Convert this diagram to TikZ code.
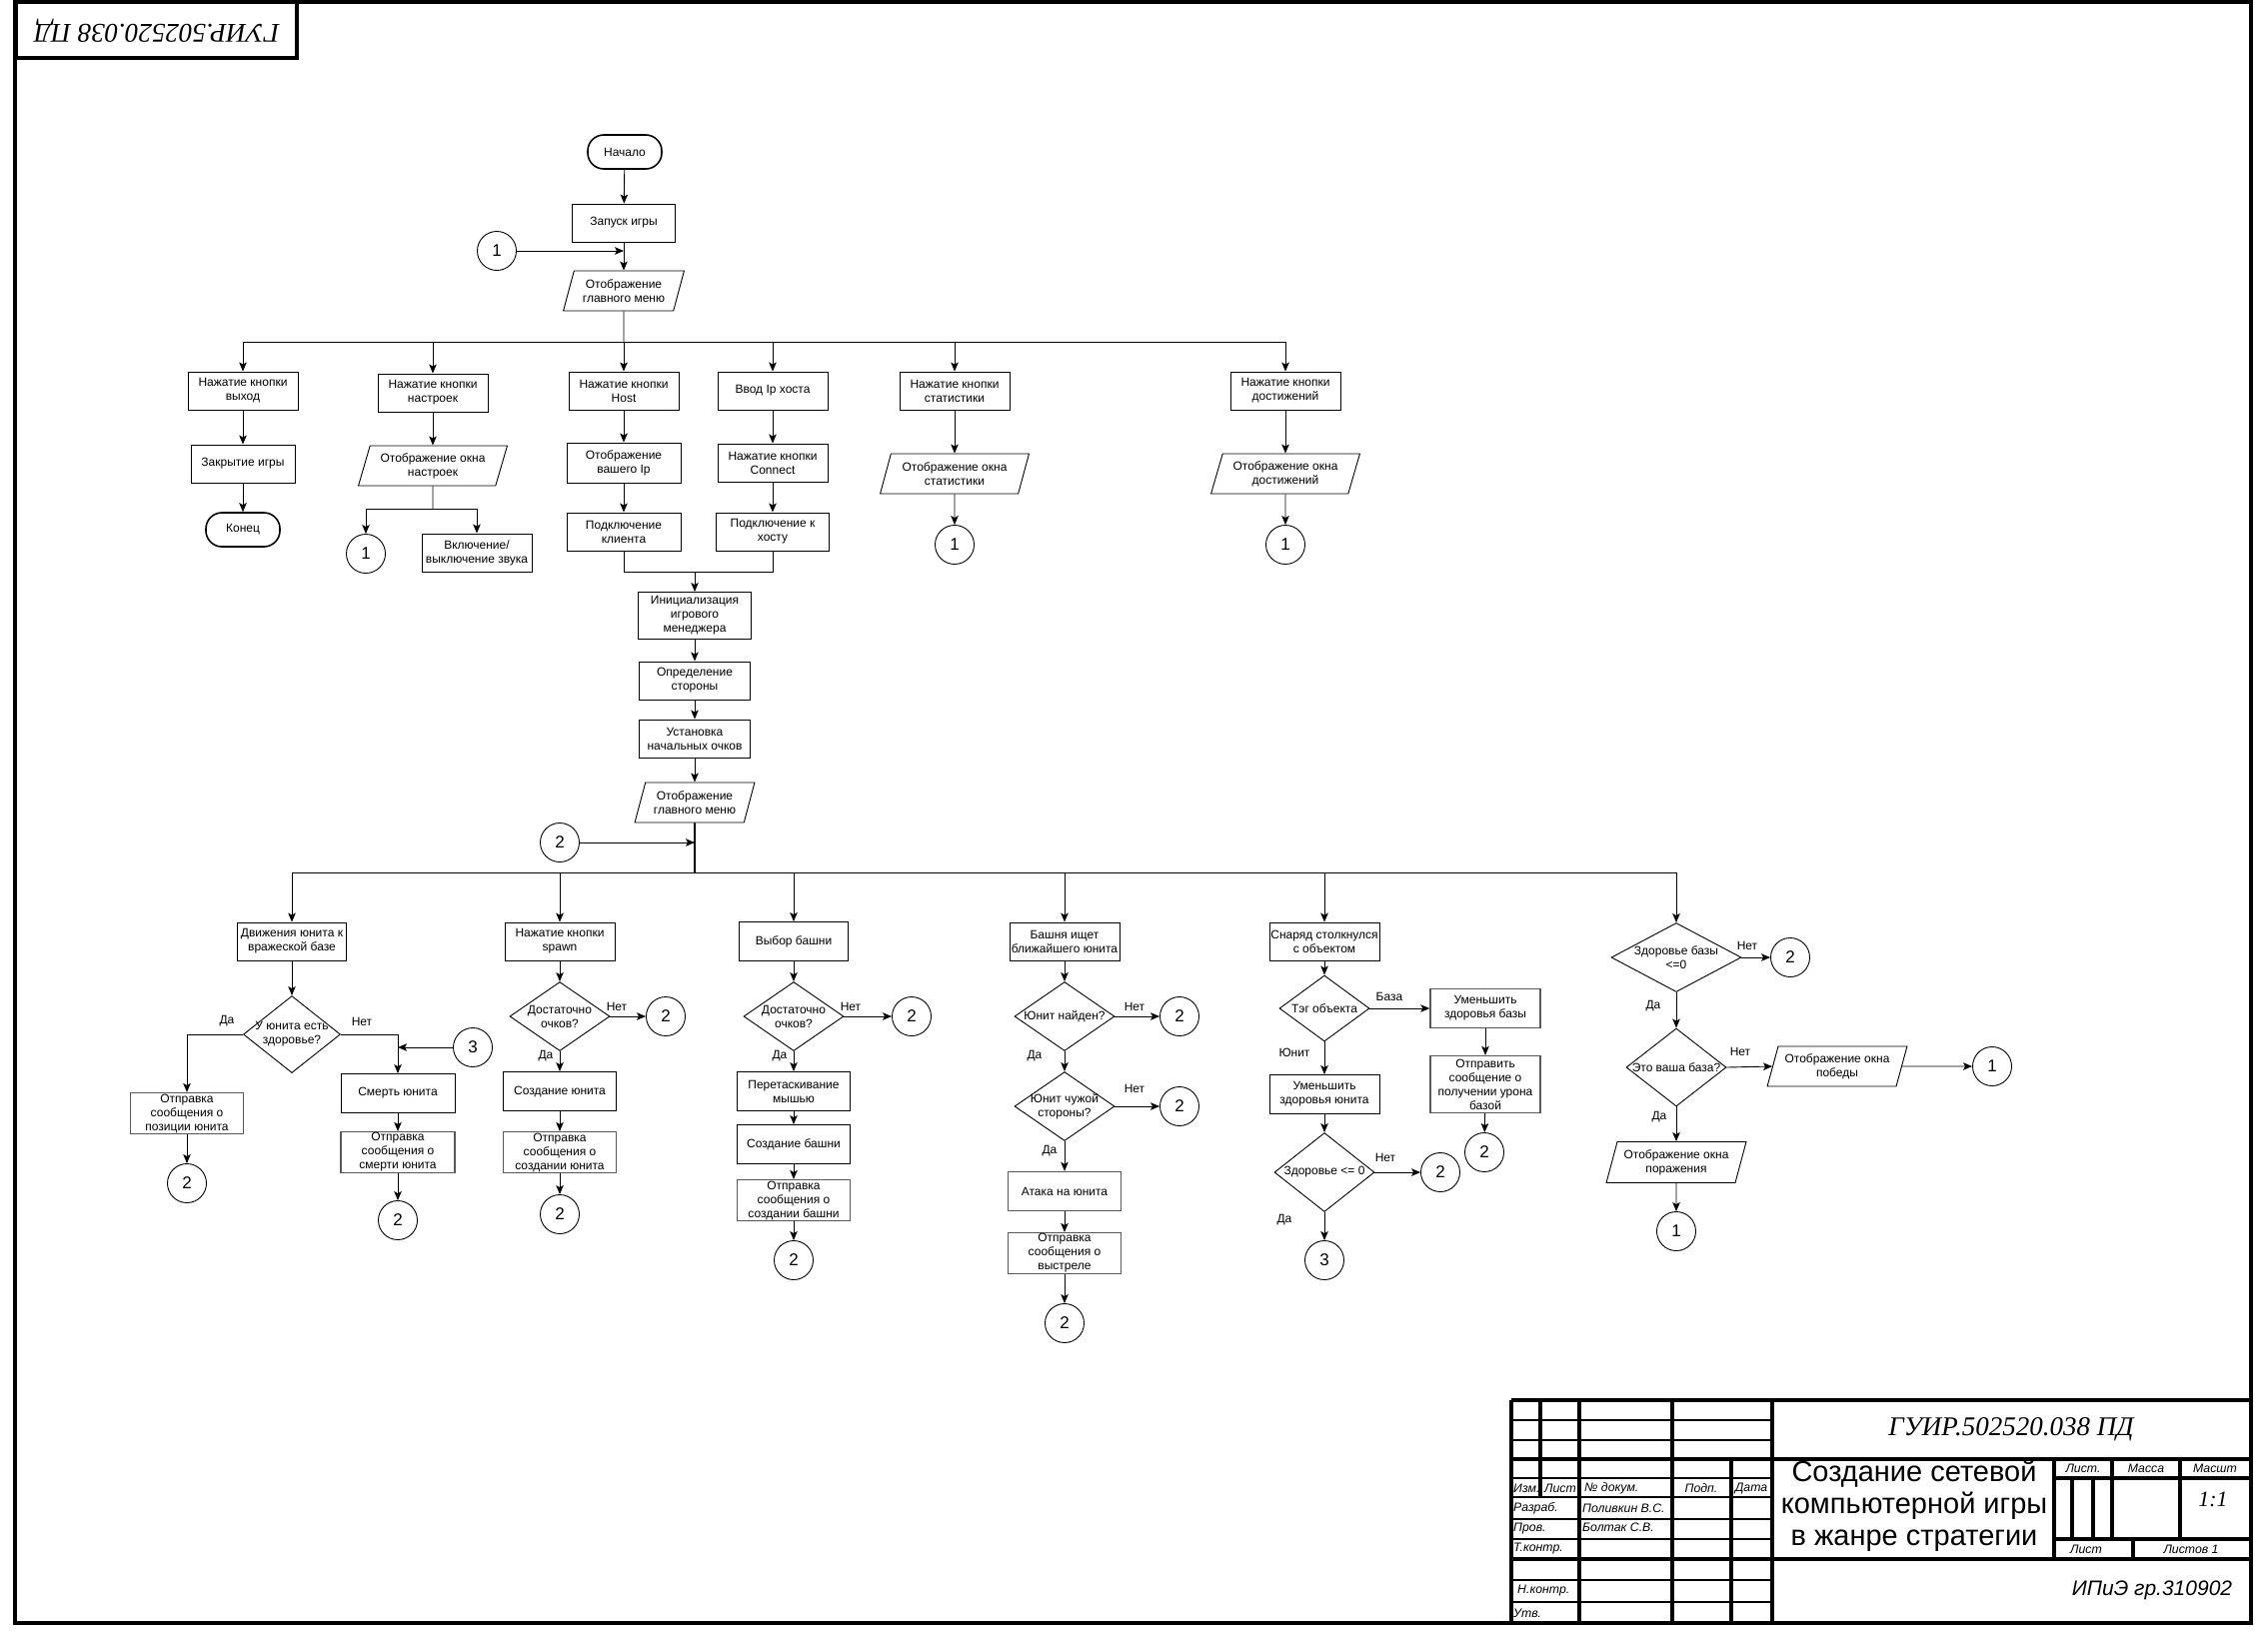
\documentclass[tikz,border=0pt]{standalone}
\usepackage{fontspec}
\setmainfont{Liberation Sans}
\newfontfamily\tserif{Liberation Serif}
\usetikzlibrary{shapes.geometric,arrows.meta}
\begin{document}
\begin{tikzpicture}[x=1pt,y=-1pt,
  every node/.style={inner sep=1pt, font=\fontsize{12}{14}\selectfont},
  box/.style={draw, line width=0.9pt, rectangle, minimum width=110pt, minimum height=38pt, align=center},
  gbox/.style={box, draw=black!65, line width=1.4pt},
  io/.style={draw, line width=0.9pt, trapezium, trapezium left angle=70, trapezium right angle=110, trapezium stretches=true, minimum width=120pt, minimum height=40pt, align=center},
  term/.style={draw, line width=1.6pt, rectangle, rounded corners=16pt, minimum width=74pt, minimum height=34pt},
  dec/.style={draw, line width=0.9pt, diamond, minimum width=100pt, minimum height=69pt},
  dtxt/.style={align=center, inner sep=0pt},
  conn/.style={draw, line width=0.9pt, circle, minimum size=39pt, inner sep=0pt, font=\fontsize{17}{20}\selectfont},
  arr/.style={line width=0.9pt, -{Stealth[length=9pt,width=7.5pt,inset=2pt]}},
  ln/.style={line width=0.9pt},
  lbl/.style={inner sep=0pt},
  frm/.style={line width=4pt},
  tk/.style={line width=3.2pt},
  tn/.style={line width=1.6pt},
  tb/.style={font=\fontsize{12.3}{14}\selectfont\itshape, inner sep=0pt},
]
\useasboundingbox (0,0) rectangle (2269,1639);
% frame and stamp
\draw[frm] (15,2) rectangle (2252,1624);
\draw[frm] (16,2) rectangle (297,58);
\node[rotate=180, font={\fontsize{27}{30}\tserif\itshape}] (stamp) at (157,31) {ГУИР.502520.038 ПД};

% ---------- top part ----------
\node[term] (start) at (625,152) {Начало};
\node[box, minimum width=103pt] (n1) at (624,223) {Запуск игры};
\node[conn] (c1a) at (497,251) {1};
\coordinate (j1) at (624,251);
\node[io, minimum width=121pt] (m1) at (624,291) {Отображение\\главного меню};
\coordinate (bus1) at (624,342);

\node[box] (b1) at (243,391) {Нажатие кнопки\\выход};
\node[box] (b2) at (433,393) {Нажатие кнопки\\настроек};
\node[box] (b3) at (624,391) {Нажатие кнопки\\Host};
\node[box] (b4) at (773,391) {Ввод Ip хоста};
\node[box] (b5) at (955,391) {Нажатие кнопки\\статистики};
\node[box] (b6) at (1286,391) {Нажатие кнопки\\достижений};

\node[box, minimum width=104pt] (b1a) at (243,464) {Закрытие игры};
\node[term] (b1b) at (243,530) {Конец};

\node[io, minimum width=149pt] (b2a) at (433,466) {Отображение окна\\настроек};
\coordinate (j2) at (433,509);
\node[conn] (c1b) at (366,554) {1};
\node[box, minimum width=110pt] (b2b) at (477,553) {Включение/\\выключение звука};

\node[box, minimum width=114pt, minimum height=40pt] (b3a) at (624,463) {Отображение\\вашего Ip};
\node[box, minimum width=114pt] (b3b) at (624,532) {Подключение\\клиента};
\node[box] (b4a) at (773,463) {Нажатие кнопки\\Connect};
\node[box, minimum width=113pt] (b4b) at (773,532) {Подключение к\\хосту};
\coordinate (j3) at (624,572);
\coordinate (j4) at (773,572);

\node[io, minimum width=149pt] (b5a) at (955,474) {Отображение окна\\статистики};
\node[conn] (c1c) at (955,545) {1};
\node[io, minimum width=149pt] (b6a) at (1286,474) {Отображение окна\\достижений};
\node[conn] (c1d) at (1286,545) {1};

\draw[arr] (start) -- (n1);
\draw[arr] (n1) -- (m1);
\draw[arr] (c1a) -- (j1);
\draw[ln] (m1.south) -- (bus1);
\draw[ln] (b1.north |- bus1) -- (b6.north |- bus1);
\foreach \n in {b1,b2,b3,b4,b5,b6} \draw[arr] (\n.north |- bus1) -- (\n.north);
\draw[arr] (b1) -- (b1a);
\draw[arr] (b1a) -- (b1b);
\draw[arr] (b2) -- (b2a);
\draw[ln] (b2a.south) -- (j2);
\draw[arr] (j2) -| (c1b.north);
\draw[arr] (j2) -| (b2b.north);
\draw[arr] (b3) -- (b3a);
\draw[arr] (b3a) -- (b3b);
\draw[arr] (b4) -- (b4a);
\draw[arr] (b4a) -- (b4b);
\draw[ln] (b3b.south) -- (j3) -- (j4) -- (b4b.south);
\draw[arr] (b5) -- (b5a);
\draw[arr] (b5a) -- (c1c);
\draw[arr] (b6) -- (b6a);
\draw[arr] (b6a) -- (c1d);

% ---------- middle chain ----------
\node[box, minimum width=113pt, minimum height=47pt] (g1) at (695,616) {Инициализация\\игрового\\менеджера};
\node[box, minimum width=111pt] (g2) at (695,681) {Определение\\стороны};
\node[box, minimum width=111pt] (g3) at (695,739) {Установка\\начальных очков};
\node[io] (g4) at (695,803) {Отображение\\главного меню};
\node[conn] (c2a) at (560,843) {2};
\coordinate (j5) at (695,843);
\coordinate (bus2) at (695,873);

\draw[arr] (g1.north |- j3) -- (g1.north);
\draw[arr] (g1) -- (g2);
\draw[arr] (g2) -- (g3);
\draw[arr] (g3) -- (g4);
\draw[line width=1.8pt] (g4.south) -- (bus2);
\draw[arr] (c2a) -- (j5);

% ---------- branch 1 ----------
\node[box, minimum width=109pt] (p1) at (292,942) {Движения юнита к\\вражеской базе};
\node[dec, minimum width=97pt, minimum height=77pt] (d1) at (292,1035) {};
\node[dtxt] (d1t) at (d1) {У юнита есть\\здоровье?};
\node[gbox, minimum width=113pt, minimum height=40pt] (p1a) at (187,1114) {Отправка\\сообщения о\\позиции юнита};
\node[conn] (c2b) at (187,1184) {2};
\node[box, minimum width=114pt, minimum height=39pt] (p1b) at (398,1094) {Смерть юнита};
\node[conn] (c3a) at (473,1048) {3};
\coordinate (j6) at (398,1048);
\node[gbox, minimum width=114pt, minimum height=39pt] (p1c) at (398,1153) {Отправка\\сообщения о\\смерти юнита};
\node[conn] (c2c) at (398,1221) {2};
\node[lbl] (l1a) at (227,1022) {Да};
\node[lbl] (l1b) at (362,1022) {Нет};

% ---------- branch 2 ----------
\node[box] (p2) at (560,942) {Нажатие кнопки\\spawn};
\node[dec] (d2) at (560,1017) {};
\node[dtxt] (d2t) at (d2) {Достаточно\\очков?};
\node[conn] (c2d) at (666,1017) {2};
\node[box, minimum width=113pt, minimum height=39pt] (p2a) at (560,1092) {Создание юнита};
\node[gbox, minimum width=113pt, minimum height=39pt] (p2b) at (560,1153) {Отправка\\сообщения о\\создании юнита};
\node[conn] (c2e) at (560,1215) {2};
\node[lbl] (l2a) at (617,1007) {Нет};
\node[lbl] (l2b) at (546,1057) {Да};

% ---------- branch 3 ----------
\node[box, minimum width=109pt, minimum height=39pt] (p3) at (794,942) {Выбор башни};
\node[dec] (d3) at (794,1017) {};
\node[dtxt] (d3t) at (d3) {Достаточно\\очков?};
\node[conn] (c2f) at (912,1017) {2};
\node[box, minimum width=113pt, minimum height=39pt] (p3a) at (794,1092) {Перетаскивание\\мышью};
\node[box, minimum width=113pt, minimum height=39pt] (p3b) at (794,1145) {Создание башни};
\node[gbox, minimum width=113pt, minimum height=39pt] (p3c) at (794,1201) {Отправка\\сообщения о\\создании башни};
\node[conn] (c2g) at (794,1261) {2};
\node[lbl] (l3a) at (851,1007) {Нет};
\node[lbl] (l3b) at (780,1057) {Да};

% ---------- branch 4 ----------
\node[box] (p4) at (1065,942) {Башня ищет\\ближайшего юнита};
\node[dec] (d4) at (1065,1017) {};
\node[dtxt] (d4t) at (d4) {Юнит найден?};
\node[conn] (c2h) at (1180,1017) {2};
\node[dec] (d5) at (1065,1107) {};
\node[dtxt] (d5t) at (d5) {Юнит чужой\\стороны?};
\node[conn] (c2i) at (1180,1107) {2};
\node[gbox, minimum width=113pt, minimum height=39pt] (p4a) at (1065,1192) {Атака на юнита};
\node[gbox, minimum width=113pt, minimum height=40pt] (p4b) at (1065,1254) {Отправка\\сообщения о\\выстреле};
\node[conn] (c2j) at (1065,1324) {2};
\node[lbl] (l4a) at (1135,1007) {Нет};
\node[lbl] (l4b) at (1035,1057) {Да};
\node[lbl] (l4c) at (1135,1089) {Нет};
\node[lbl] (l4d) at (1050,1152) {Да};

% ---------- branch 5 ----------
\node[box] (p5) at (1325,942) {Снаряд столкнулся\\с объектом};
\node[dec, minimum width=90pt, minimum height=66pt] (d6) at (1325,1009) {};
\node[dtxt] (d6t) at (d6) {Тэг объекта};
\node[gbox, minimum width=110pt, minimum height=39pt] (p5r) at (1486,1009) {Уменьшить\\здоровья базы};
\node[gbox, minimum width=110pt, minimum height=57pt] (p5s) at (1486,1085) {Отправить\\сообщение о\\получении урона\\базой};
\node[conn] (c2k) at (1485,1153) {2};
\node[box, minimum width=110pt, minimum height=39pt] (p5a) at (1325,1095) {Уменьшить\\здоровья юнита};
\node[dec, minimum width=100pt, minimum height=79pt] (d7) at (1325,1173) {};
\node[dtxt] (d7t) at (d7) {Здоровье <= 0};
\node[conn] (c2l) at (1441,1173) {2};
\node[conn] (c3b) at (1325,1261) {3};
\node[lbl] (l5a) at (1390,997) {База};
\node[lbl] (l5b) at (1295,1053) {Юнит};
\node[lbl] (l5c) at (1386,1158) {Нет};
\node[lbl] (l5d) at (1285,1221) {Да};

% ---------- branch 6 ----------
\node[dec, minimum width=130pt, minimum height=69pt] (d8) at (1677,958) {};
\node[dtxt] (d8t) at (d8) {Здоровье базы\\<=0};
\node[conn] (c2m) at (1791,958) {2};
\node[dec, minimum width=100pt, minimum height=78pt] (d9) at (1677,1068) {};
\node[dtxt] (d9t) at (d9) {Это ваша база?};
\node[io, minimum width=140pt] (p6b) at (1838,1067) {Отображение окна\\победы};
\node[conn] (c1f) at (1993,1067) {1};
\node[io, minimum width=140pt, minimum height=41pt] (p6a) at (1677,1163) {Отображение окна\\поражения};
\node[conn] (c1e) at (1677,1232) {1};
\node[lbl] (l6a) at (1748,946) {Нет};
\node[lbl] (l6b) at (1654,1007) {Да};
\node[lbl] (l6c) at (1741,1052) {Нет};
\node[lbl] (l6d) at (1660,1118) {Да};

% ---------- bottom connectors ----------
\draw[ln] (p1.north |- bus2) -- (d8.north |- bus2);
\foreach \n in {p1,p2,p3,p4,p5,d8} \draw[arr] (\n.north |- bus2) -- (\n.north);

\draw[arr] (p1) -- (d1);
\draw[arr] (d1.west) -| (p1a.north);
\draw[arr] (p1a) -- (c2b);
\draw[arr] (d1.east) -| (p1b.north);
\draw[arr] (c3a) -- (j6);
\draw[arr] (p1b) -- (p1c);
\draw[arr] (p1c) -- (c2c);

\draw[arr] (p2) -- (d2);
\draw[arr] (d2) -- (c2d);
\draw[arr] (d2) -- (p2a);
\draw[arr] (p2a) -- (p2b);
\draw[arr] (p2b) -- (c2e);

\draw[arr] (p3) -- (d3);
\draw[arr] (d3) -- (c2f);
\draw[arr] (d3) -- (p3a);
\draw[arr] (p3a) -- (p3b);
\draw[arr] (p3b) -- (p3c);
\draw[arr] (p3c) -- (c2g);

\draw[arr] (p4) -- (d4);
\draw[arr] (d4) -- (c2h);
\draw[arr] (d4) -- (d5);
\draw[arr] (d5) -- (c2i);
\draw[arr] (d5) -- (p4a);
\draw[arr] (p4a) -- (p4b);
\draw[arr] (p4b) -- (c2j);

\draw[arr] (p5) -- (d6);
\draw[arr] (d6) -- (p5r);
\draw[arr] (p5r) -- (p5s);
\draw[arr] (p5s) -- (c2k);
\draw[arr] (d6) -- (p5a);
\draw[arr] (p5a) -- (d7);
\draw[arr] (d7) -- (c2l);
\draw[arr] (d7) -- (c3b);

\draw[arr] (d8) -- (c2m);
\draw[arr] (d8) -- (d9);
\draw[arr] (d9.east) -- (p6b.west);
\draw[arr] (p6b.east) -- (c1f);
\draw[arr] (d9) -- (p6a);
\draw[arr] (p6a) -- (c1e);

% ---------- title block ----------
\foreach \y in {1421,1441,1479,1498,1520,1540,1581,1603} \draw[tn] (1512,\y) -- (1773,\y);
\draw[tk] (1512,1401) -- (2252,1401);
\draw[tk] (1512,1401) -- (1512,1624);
\draw[tk] (1541,1401) -- (1541,1498);
\draw[tk] (1580,1401) -- (1580,1624);
\draw[tk] (1673,1401) -- (1673,1624);
\draw[tk] (1732,1460) -- (1732,1624);
\draw[tk] (1773,1401) -- (1773,1624);
\draw[tk] (1512,1460) -- (2252,1460);
\draw[tk] (1512,1560) -- (2252,1560);
\draw[tk] (2055,1460) -- (2055,1560);
\draw[tk] (2113,1460) -- (2113,1540);
\draw[tk] (2181,1460) -- (2181,1540);
\draw[tk] (2055,1479) -- (2252,1479);
\draw[tk] (2055,1540) -- (2252,1540);
\draw[tk] (2073,1479) -- (2073,1540);
\draw[tk] (2094,1479) -- (2094,1540);
\draw[tk] (2134,1540) -- (2134,1560);

\node[font={\fontsize{27}{30}\tserif\itshape}] (tt1) at (2012,1430) {ГУИР.502520.038 ПД};
\node[align=center, font=\fontsize{29}{32}\selectfont] (tt2) at (1915,1507) {Создание сетевой\\компьютерной игры\\в жанре стратегии};
\node[tb] (h1) at (2084,1469) {Лист.};
\node[tb] (h2) at (2147,1469) {Масса};
\node[tb] (h3) at (2216,1469) {Масшт};
\node[font={\fontsize{22}{24}\tserif\itshape}] (h4) at (2214,1500) {1:1};
\node[tb] (h5) at (2087,1550) {Лист};
\node[tb] (h6) at (2192,1550) {Листов 1};
\node[font=\fontsize{21}{24}\selectfont\itshape] (h7) at (2153,1591) {ИПиЭ гр.310902};
\node[tb, anchor=west] (r1) at (1514,1489) {Изм.};
\node[tb] (r2) at (1561,1489) {Лист};
\node[tb, anchor=west] (r3) at (1585,1489) {№ докум.};
\node[tb] (r4) at (1702,1489) {Подп.};
\node[tb] (r5) at (1752,1489) {Дата};
\node[tb, anchor=west] (r6) at (1514,1509) {Разраб.};
\node[tb, anchor=west] (r7) at (1583,1509) {Поливкин В.С.};
\node[tb, anchor=west] (r8) at (1514,1530) {Пров.};
\node[tb, anchor=west] (r9) at (1583,1528) {Болтак С.В.};
\node[tb, anchor=west] (r10) at (1514,1550) {Т.контр.};
\node[tb, anchor=west] (r11) at (1518,1592) {Н.контр.};
\node[tb, anchor=west] (r12) at (1514,1614) {Утв.};
\end{tikzpicture}
\end{document}
